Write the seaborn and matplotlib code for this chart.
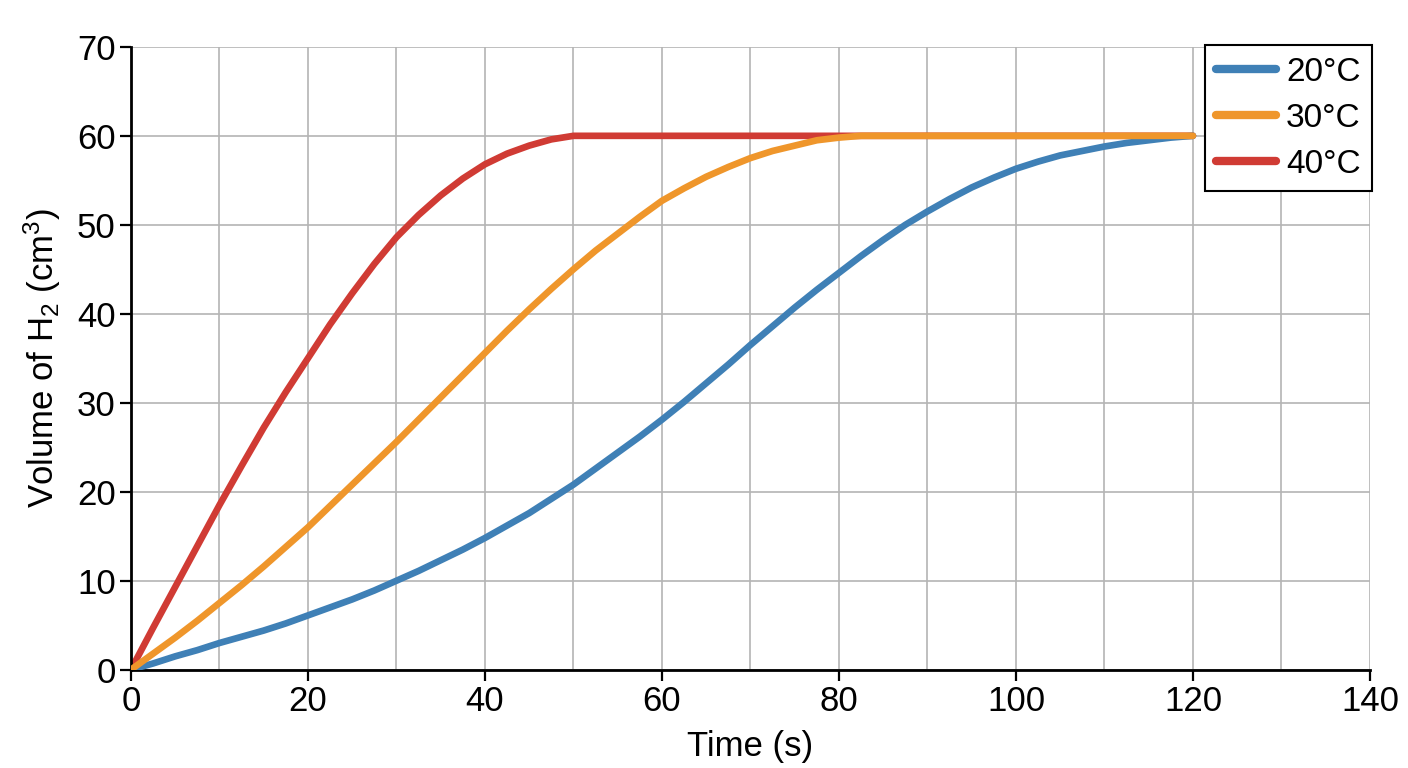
import pandas as pd
import matplotlib.pyplot as plt
import seaborn as sns

time_s = [0, 2.5, 5, 7.5, 10, 12.5, 15, 17.5, 20, 22.5, 25, 27.5, 30, 32.5, 35, 37.5,
          40, 42.5, 45, 47.5, 50, 52.5, 55, 57.5, 60, 62.5, 65, 67.5, 70, 72.5, 75,
          77.5, 80, 82.5, 85, 87.5, 90, 92.5, 95, 97.5, 100, 102.5, 105, 107.5, 110,
          112.5, 115, 117.5, 120]
vol_20 = [0, 0.7, 1.5, 2.2, 3.0, 3.7, 4.4, 5.2, 6.1, 7.0, 7.9, 8.9, 10.0, 11.1, 12.3,
          13.5, 14.8, 16.2, 17.6, 19.2, 20.8, 22.6, 24.4, 26.2, 28.1, 30.1, 32.2, 34.3,
          36.5, 38.6, 40.7, 42.7, 44.6, 46.5, 48.3, 50.0, 51.5, 52.9, 54.2, 55.3, 56.3,
          57.1, 57.8, 58.3, 58.8, 59.2, 59.5, 59.8, 60]
vol_30 = [0, 1.8, 3.6, 5.5, 7.5, 9.5, 11.6, 13.8, 16.0, 18.4, 20.8, 23.2, 25.6, 28.1,
          30.6, 33.1, 35.6, 38.1, 40.5, 42.8, 45.0, 47.1, 49.0, 50.9, 52.7, 54.1, 55.4,
          56.5, 57.5, 58.3, 58.9, 59.5, 59.8, 60, 60, 60, 60, 60, 60, 60, 60, 60, 60,
          60, 60, 60, 60, 60, 60]
vol_40 = [0, 4.7, 9.3, 13.9, 18.5, 22.9, 27.2, 31.2, 35.0, 38.8, 42.3, 45.6, 48.6, 51.1,
          53.3, 55.2, 56.8, 58.0, 58.9, 59.6, 60, 60, 60, 60, 60, 60, 60, 60, 60, 60,
          60, 60, 60, 60, 60, 60, 60, 60, 60, 60, 60, 60, 60, 60, 60, 60, 60, 60, 60]
temps = ["20°C", "30°C", "40°C"]
colors = ["#3f80b6", "#ef962b", "#d03b34"]

n = len(time_s)
df = pd.DataFrame({
    "Time": time_s * 3,
    "Volume": vol_20 + vol_30 + vol_40,
    "Temperature": [temps[0]] * n + [temps[1]] * n + [temps[2]] * n,
})

sns.set_style("white")
plt.rcParams["font.family"] = ["Liberation Sans", "DejaVu Sans"]
plt.rcParams["mathtext.default"] = "regular"
plt.rcParams["text.color"] = "black"
plt.rcParams["axes.labelcolor"] = "black"
plt.rcParams["xtick.color"] = "black"
plt.rcParams["ytick.color"] = "black"

fig = plt.figure(figsize=(14.08, 7.68), dpi=100)
ax = fig.add_axes([0.093, 0.128, 0.880, 0.811])

# orange sits over red, as in the reference
for temp, col, z in zip(temps, colors, [3, 4, 2]):
    sub = df[df["Temperature"] == temp]
    sns.lineplot(data=sub, x="Time", y="Volume", color=col, linewidth=4.8,
                 label=temp, ax=ax, zorder=z, solid_capstyle="round")

ax.set_xlim(0, 140)
ax.set_ylim(0, 70)
ax.set_xticks(range(0, 141, 20))
ax.set_yticks(range(0, 71, 10))
ax.set_xticks(range(0, 141, 10), minor=True)
ax.grid(True, which="both", color="#b4b4b4", linewidth=1.2)
ax.set_axisbelow(True)

for side in ["top", "right"]:
    ax.spines[side].set_visible(False)
for side in ["left", "bottom"]:
    ax.spines[side].set_color("black")
    ax.spines[side].set_linewidth(2)

ax.tick_params(axis="both", which="major", direction="out", length=8, width=1.6,
               labelsize=25, left=True, bottom=True, pad=3)
ax.tick_params(axis="x", which="minor", length=0)

ax.set_xlabel("Time (s)", fontsize=25, labelpad=9)
ax.set_ylabel("Volume of H$_2$ (cm$^3$)", fontsize=25, labelpad=10)

leg = ax.legend(loc="upper right", bbox_to_anchor=(1.002, 1.003), fontsize=24,
                frameon=True, fancybox=False, borderaxespad=0, handlelength=1.8,
                handletextpad=0.3, labelspacing=0.45, borderpad=0.35)
leg.get_frame().set_edgecolor("black")
leg.get_frame().set_linewidth(1.5)
leg.get_frame().set_alpha(1)
for line in leg.get_lines():
    line.set_linewidth(6)
    line.set_solid_capstyle("round")

fig.savefig("out.png", dpi=100)
